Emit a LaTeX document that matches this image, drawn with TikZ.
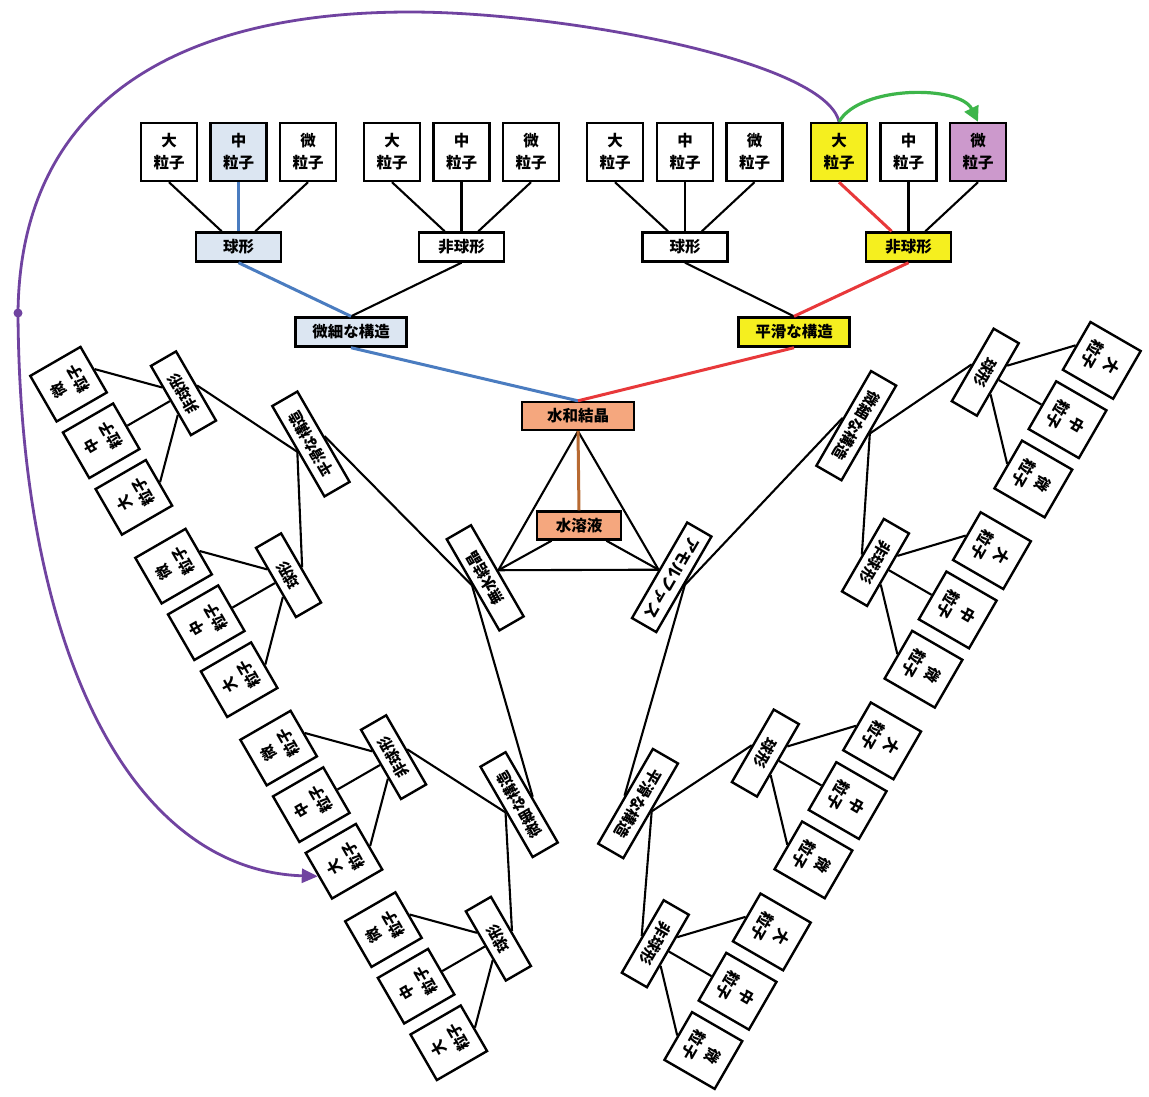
\documentclass[tikz,border=0pt]{standalone}
\usepackage{fontspec}
\newfontfamily\jpfont{Noto Sans CJK JP}
\usetikzlibrary{arrows.meta}

\definecolor{paleblue}{HTML}{DCE6F2}
\definecolor{edgeblue}{HTML}{4A7CC0}
\definecolor{hiyellow}{HTML}{F5EF1F}
\definecolor{hipink}{HTML}{CC99CC}
\definecolor{edgered}{HTML}{E8383A}
\definecolor{salmon}{HTML}{F5A77E}
\definecolor{rootbrown}{HTML}{B86A32}
\definecolor{arcpurple}{HTML}{7043A0}
\definecolor{arcgreen}{HTML}{3DB54A}

\tikzset{
  box/.style={draw=black, line width=2.4pt, fill=white, inner sep=0pt, align=center,
    font=\jpfont\bfseries\fontsize{15.5}{22}\selectfont},
  leafbox/.style={box, minimum width=56pt, minimum height=58pt},
  shapebox/.style={box, minimum width=85pt, minimum height=29pt},
  structbox/.style={box, minimum width=111pt, minimum height=29pt},
  rootbox/.style={box, minimum width=112pt, minimum height=28pt},
  solbox/.style={box, minimum width=84pt, minimum height=28pt, fill=salmon},
  link/.style={line width=2.1pt, draw=black},
  bluelink/.style={line width=3pt, draw=edgeblue},
  redlink/.style={line width=3pt, draw=edgered},
  brownlink/.style={line width=3pt, draw=rootbrown},
  purplearc/.style={line width=2.8pt, draw=arcpurple, -{Triangle[length=16pt,width=14pt]}},
  greenarc/.style={line width=3.2pt, draw=arcgreen, -{Triangle[length=15pt,width=15pt]}},
  % highlighted path in the upper tree
  top-r/.style={fill=salmon},
  top-a1/.style={fill=paleblue}, top-m1/.style={fill=paleblue}, top-l2/.style={fill=paleblue},
  top-a2/.style={fill=hiyellow}, top-m4/.style={fill=hiyellow}, top-l10/.style={fill=hiyellow},
  top-l12/.style={fill=hipink},
  top-e-a1/.style={bluelink}, top-e-m1/.style={bluelink}, top-e-l2/.style={bluelink},
  top-e-a2/.style={redlink}, top-e-m4/.style={redlink}, top-e-l10/.style={redlink},
}

% One classification tree: root, two structures, four shapes, twelve particle sizes
\newcommand\crystaltree[2]{%
  \node[rootbox,#1-r/.try] (#1-r) at (0,0) {#2};
  \node[structbox,#1-a1/.try] (#1-a1) at (-227,-84) {微細な構造};
  \node[structbox,#1-a2/.try] (#1-a2) at (216,-84) {平滑な構造};
  \node[shapebox,#1-m1/.try] (#1-m1) at (-339.5,-169) {球形};
  \node[shapebox,#1-m2/.try] (#1-m2) at (-116.5,-169) {非球形};
  \node[shapebox,#1-m3/.try] (#1-m3) at (107,-169) {球形};
  \node[shapebox,#1-m4/.try] (#1-m4) at (330.5,-169) {非球形};
  \node[leafbox,#1-l1/.try] (#1-l1) at (-409,-264) {大\\粒子};
  \node[leafbox,#1-l2/.try] (#1-l2) at (-339.5,-264) {中\\粒子};
  \node[leafbox,#1-l3/.try] (#1-l3) at (-270,-264) {微\\粒子};
  \node[leafbox,#1-l4/.try] (#1-l4) at (-186,-264) {大\\粒子};
  \node[leafbox,#1-l5/.try] (#1-l5) at (-116.5,-264) {中\\粒子};
  \node[leafbox,#1-l6/.try] (#1-l6) at (-47,-264) {微\\粒子};
  \node[leafbox,#1-l7/.try] (#1-l7) at (37,-264) {大\\粒子};
  \node[leafbox,#1-l8/.try] (#1-l8) at (107,-264) {中\\粒子};
  \node[leafbox,#1-l9/.try] (#1-l9) at (176.5,-264) {微\\粒子};
  \node[leafbox,#1-l10/.try] (#1-l10) at (261,-264) {大\\粒子};
  \node[leafbox,#1-l11/.try] (#1-l11) at (330.5,-264) {中\\粒子};
  \node[leafbox,#1-l12/.try] (#1-l12) at (400,-264) {微\\粒子};
  \draw[link,#1-e-l1/.try] (#1-l1.south) -- (#1-m1);
  \draw[link,#1-e-l3/.try] (#1-l3.south) -- (#1-m1);
  \draw[link,#1-e-l2/.try] (#1-l2.south) -- (#1-m1);
  \draw[link,#1-e-l4/.try] (#1-l4.south) -- (#1-m2);
  \draw[link,#1-e-l5/.try] (#1-l5.south) -- (#1-m2);
  \draw[link,#1-e-l6/.try] (#1-l6.south) -- (#1-m2);
  \draw[link,#1-e-l7/.try] (#1-l7.south) -- (#1-m3);
  \draw[link,#1-e-l8/.try] (#1-l8.south) -- (#1-m3);
  \draw[link,#1-e-l9/.try] (#1-l9.south) -- (#1-m3);
  \draw[link,#1-e-l11/.try] (#1-l11.south) -- (#1-m4);
  \draw[link,#1-e-l12/.try] (#1-l12.south) -- (#1-m4);
  \draw[link,#1-e-l10/.try] (#1-l10.south) -- (#1-m4);
  \draw[link,#1-e-m2/.try] (#1-m2.south) -- (#1-a1.north);
  \draw[link,#1-e-m1/.try] (#1-m1.south) -- (#1-a1.north);
  \draw[link,#1-e-m3/.try] (#1-m3.south) -- (#1-a2.north);
  \draw[link,#1-e-m4/.try] (#1-m4.south) -- (#1-a2.north);
  \draw[link,#1-e-a1/.try] (#1-a1.south) -- (#1-r.north);
  \draw[link,#1-e-a2/.try] (#1-a2.south) -- (#1-r.north);
}

\begin{document}
\begin{tikzpicture}[x=1pt, y=-1pt]
  \useasboundingbox (0,0) rectangle (1149,1096);
  \fill[white] (0,0) rectangle (1149,1096);

  % upper tree: hydrate crystal
  \begin{scope}[shift={(578,416)}]
    \crystaltree{top}{水和結晶}
  \end{scope}

  % lower-left tree: anhydrous crystal
  \begin{scope}[rotate around={120:(578.3,523.7)}, transform shape]
    \begin{scope}[shift={(578,416)}, xscale=0.94]
      \crystaltree{left}{無水結晶}
    \end{scope}
  \end{scope}

  % lower-right tree: amorphous
  \begin{scope}[rotate around={-120:(578.3,523.7)}, transform shape]
    \begin{scope}[shift={(578,416)}, xscale=0.985]
      \crystaltree{right}{アモルファス}
    \end{scope}
  \end{scope}

  % central triangle with the solution
  \node[solbox] (sol) at (579,525.5) {水溶液};
  \draw[link, line join=miter] (top-r.south) -- (left-r.south) -- (right-r.south) -- cycle;
  \draw[link] (sol) -- (left-r.south);
  \draw[link] (sol) -- (right-r.south);
  \draw[brownlink] (top-r.south) -- (sol.north);

  % transitions between particle classes
  \coordinate (pdot) at (18,313);
  \draw[purplearc] (top-l10.north) .. controls (825,60) and (560,12) .. (410,12)
    .. controls (180,12) and (20,100) .. (pdot)
    .. controls (20,650) and (130,870) .. (left-l4.north);
  \fill[arcpurple] (pdot) circle (4.5pt);
  \draw[greenarc] (top-l10.north) .. controls (860,85) and (960,85) .. (top-l12.north);
\end{tikzpicture}
\end{document}
